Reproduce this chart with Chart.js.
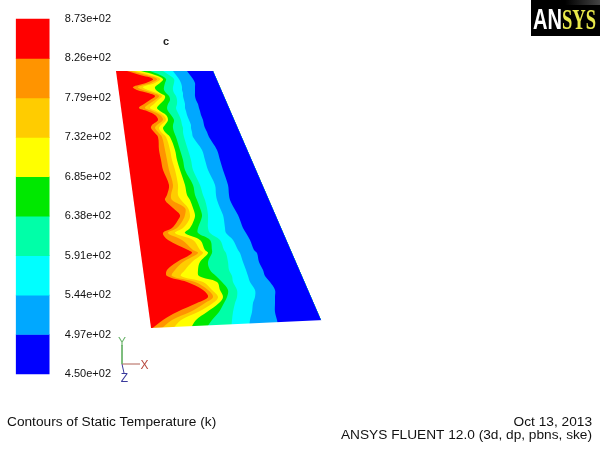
<!DOCTYPE html>
<html><head><meta charset="utf-8">
<style>html,body{margin:0;padding:0;background:#fff}canvas{display:block}</style>
<script src="https://cdn.jsdelivr.net/npm/chart.js@4"></script>
</head><body><canvas id="c" width="600" height="450"></canvas>
<script>
// Colour map
const tempLevels=[450,497,544,591,638,685,732,779,826,873];
const tickLabels=["4.50e+02","4.97e+02","5.44e+02","5.91e+02","6.38e+02","6.85e+02","7.32e+02","7.79e+02","8.26e+02","8.73e+02"];
const bandColors=["#0000ff","#00a8ff","#00ffff","#00ffa8","#00e800","#ffff00","#ffcc00","#ff9400","#ff0000"];
// Contour boundaries sampled along the plate rows
const rows=[71,75,79,83,87,90,93,96,100,104,108,111,115,120,125,128,132,137,150,160,170,185,195,200,208,215,220,228,233,240,250,253,262,270,276,282,290,297,303,312,320,330];
const b0=[127,140,153,146,133,137,148,155,150,144,139,147,155,158,152,151,154,158,159,161,163,169,167,165,173,180,178,172,163,168,188,192,177,167,167,187,203,208,197,177,163,150];
const b1=[131,146,157,151,138,143,153,159,155,149,145,152,160,163,157,155,158,162,165,167,169,173,171,172,185,185,183,177,168,182,193,198,183,175,172,195,208,213,205,190,172,160];
const b2=[135,150,160,155,143,148,157,162,158,154,150,156,163,166,161,159,161,166,170,172,175,178,178,181,188,190,189,183,175,193,200,203,192,185,181,203,212,218,213,198,181,172];
const b3=[141,155,163,160,155,156,160,165,164,160,157,160,166,168,165,163,165,170,175,177,180,185,187,190,193,195,194,190,185,200,205,208,200,198,199,217,220,223,219,207,196,190];
const b4=[150,160,166,165,164,164,166,169,170,168,167,168,171,174,173,173,174,176,180,183,185,193,195,197,200,202,201,198,198,210,212,212,208,210,216,222,228,227,224,219,212,205];
const b5=[163,169,174,174,173,173,174,176,177,177,176,177,179,181,182,183,183,184,188,191,193,200,203,205,207,208,208,208,210,220,224,226,228,229,232,233,237,237,235,233,232,231];
const b6=[173,176,179,181,182,182,183,183,184,185,185,186,187,189,191,191,192,193,202,205,208,215,216,217,220,223,224,225,226,233,238,240,243,246,248,250,255,255,253,252,250,249];
const b7=[187,190,193,195,195,195,195,195,196,198,199,200,201,203,204,205,207,209,217,220,223,228,229,230,234,238,240,243,246,250,254,257,259,263,265,270,275,275,275,275,277,279];
const leftEdgeX=[116,151.3], leftEdgeY=[71,330];
const rightEdgeX=[213,325.3], rightEdgeY=[71,330];
const bottomEdgeX=[135,335], bottomEdgeY=[328.7,319.5];
// Orientation triad
const triadY=[[122,345],[122,364]], triadX=[[122,364],[140,364]], triadZ=[[122,364],[124,373]];
// Text
const texts=[
 ["Contours of Static Temperature (k)",7,426,"left","13.7px 'Liberation Sans'","#111"],
 ["Oct 13, 2013",592,426,"right","13.7px 'Liberation Sans'","#111"],
 ["ANSYS FLUENT 12.0 (3d, dp, pbns, ske)",592,439,"right","13.7px 'Liberation Sans'","#111"],
 ["c",166,45,"center","bold 11px 'Liberation Sans'","#222"],
 ["Y",122,346,"center","12px 'Liberation Sans'","#6cb46c"],
 ["X",144.5,369,"center","12px 'Liberation Sans'","#b84a40"],
 ["Z",124.5,382,"center","12px 'Liberation Sans'","#3a3a9c"]
];

const toPts=(xs,ys)=>xs.map((x,i)=>({x,y:ys[i]}));
const boundaries=[b7,b6,b5,b4,b3,b2,b1,b0];
const datasets=[];
// mask below the plate's lower edge
datasets.push({type:'line',indexAxis:'x',data:toPts(bottomEdgeX,bottomEdgeY),xAxisID:'x',yAxisID:'y',
  borderWidth:0,pointRadius:0,backgroundColor:'#fff',fill:{value:340}});
// right edge: fill target for every band
datasets.push({type:'line',indexAxis:'y',data:toPts(rightEdgeX,rightEdgeY),xAxisID:'x',yAxisID:'y',
  borderWidth:0,pointRadius:0,fill:false});
boundaries.forEach((b,i)=>datasets.push({type:'line',indexAxis:'y',data:toPts(b,rows),xAxisID:'x',yAxisID:'y',
  borderWidth:0,pointRadius:0,tension:0.35,backgroundColor:bandColors[i],fill:1}));
datasets.push({type:'line',indexAxis:'y',data:toPts(leftEdgeX,leftEdgeY),xAxisID:'x',yAxisID:'y',
  borderWidth:0,pointRadius:0,backgroundColor:bandColors[8],fill:1});
// colour bar
datasets.push({type:'bar',xAxisID:'x',yAxisID:'temp',barThickness:33,
  data:bandColors.map((c,i)=>({x:32.7,y:[tempLevels[i],tempLevels[i+1]]})),
  backgroundColor:bandColors,borderWidth:0});
// triad
[[triadY,'#6cb46c'],[triadX,'#b06055'],[triadZ,'#3a3a9c']].forEach(([t,c])=>datasets.push({type:'line',indexAxis:'x',
  data:t.map(p=>({x:p[0],y:p[1]})),xAxisID:'x',yAxisID:'y',borderColor:c,borderWidth:1,pointRadius:0,fill:false}));

const decor={id:'decor',afterDraw(chart){
  const g=chart.ctx;g.save();
  g.fillStyle='#000';g.fillRect(531,0,69,36);
  const gr=g.createLinearGradient(565,0,600,0);gr.addColorStop(0,'#000');gr.addColorStop(1,'#444');
  g.fillStyle=gr;g.fillRect(565,0,35,5);
  g.textBaseline='alphabetic';g.textAlign='left';
  g.fillStyle='#fff';g.font="bold 29px 'Liberation Sans'";g.fillText("AN",533,29,29);
  g.fillStyle='#e8e84a';g.font="bold 29px 'Liberation Serif'";g.fillText("SYS",562,29,34);
  texts.forEach(([s,x,y,a,f,c])=>{g.textAlign=a;g.font=f;g.fillStyle=c;g.fillText(s,x,y);});
  // colour bar labels placed through the temperature scale
  const sx=chart.scales.x, st=chart.scales.temp;
  g.textAlign='right';g.textBaseline='middle';g.fillStyle='#111';g.font="11px 'Liberation Sans'";
  tempLevels.forEach((v,i)=>g.fillText(tickLabels[i],sx.getPixelForValue(111),st.getPixelForValue(v)));
  g.restore();
}};

new Chart(document.getElementById('c'),{
  type:'line',
  data:{datasets},
  plugins:[decor],
  options:{
    responsive:false,animation:false,events:[],
    layout:{padding:0},
    plugins:{legend:{display:false},tooltip:{enabled:false},title:{display:false}},
    scales:{
      x:{type:'linear',min:0,max:600,display:false,offset:false},
      y:{type:'linear',min:0,max:450,reverse:true,display:false,offset:false},
      temp:{type:'linear',axis:'y',min:359.4,max:895.6,offset:false,display:false}
    }
  }
});
</script></body></html>
